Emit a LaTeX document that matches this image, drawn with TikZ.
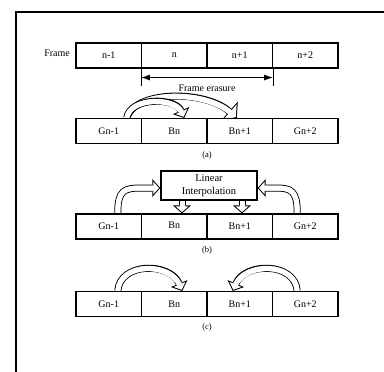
\documentclass[tikz,border=0pt]{standalone}
\usepackage{fontspec}
\setmainfont{Liberation Serif}
\usetikzlibrary{arrows.meta,calc,backgrounds}

\tikzset{
  cell/.style={draw, line width=1.1pt, fill=white, minimum width=65.5pt,
    minimum height=25pt, inner sep=0pt, font=\fontsize{10}{12}\selectfont},
  lbl/.style={inner sep=0pt, font=\fontsize{8.5}{10}\selectfont},
  % hollow outlined arrow: black body, white core, white head inset by 1pt
  harrow/.style n args={6}{line width=7pt,
    -{Triangle[length=#1pt,width=#2pt,line width=0pt]},
    postaction={draw=white, line width=5pt,
      -{Triangle[length=#3pt,width=#4pt,line width=0pt]}, shorten >=#5pt},
    postaction={draw=white, line width=5pt, -, shorten >=#6pt}},
  hsmall/.style={harrow={8}{18}{5.66}{12.7}{1.34}{5}},
  hbig/.style={harrow={10}{26}{7.74}{20.1}{1.26}{6}},
  erase/.style={line width=0.9pt,
    {Latex[length=9pt,width=6pt]}-{Latex[length=9pt,width=6pt]}}
}

\begin{document}
\begin{tikzpicture}[x=1pt,y=-1pt]
\useasboundingbox (0,0) rectangle (384,372);

% outer frame
\draw[line width=2pt] (384,11.5) -- (15.5,11.5) -- (15.5,372);

% frame row
\node[cell] (f1) at (108.75,55.5) {n-1};
\node[cell] (f2) at (174.25,55.5) {n};
\node[cell] (f3) at (239.75,55.5) {n+1};
\node[cell] (f4) at (305.25,55.5) {n+2};
\node[lbl, anchor=east, font=\fontsize{10}{12}\selectfont] (fr) at (70,53.5) {Frame};

% erasure span
\draw[line width=0.9pt] (f2.south west) -- ++(0,17) coordinate (tl);
\draw[line width=0.9pt] (f3.south east) -- ++(0,17) coordinate (tr);
\draw[erase] ($(f2.south west)+(0,9)$) coordinate (el) -- ($(f3.south east)+(0,9)$) coordinate (er);
\node[lbl, font=\fontsize{10}{12}\selectfont] (fe) at (207,88) {Frame erasure};

% row (a)
\node[cell] (ga1) at (108.75,131) {Gn-1};
\node[cell] (ba1) at (174.25,131) {Bn};
\node[cell] (ba2) at (239.75,131) {Bn+1};
\node[cell] (ga2) at (305.25,131) {Gn+2};
\node[lbl] (capa) at (207,155) {(a)};

% row (b)
\node[cell, line width=1.4pt, fill=white, minimum width=96pt, minimum height=29pt,
  align=center, font=\fontsize{10.5}{12.5}\selectfont] (li) at (209,185.5) {Linear\\Interpolation};
\node[cell] (gb1) at (108.75,226.5) {Gn-1};
\node[cell] (bb1) at (174.25,226.5) {\raisebox{3pt}{Bn}};
\node[cell] (bb2) at (239.75,226.5) {Bn+1};
\node[cell] (gb2) at (305.25,226.5) {Gn+2};
\node[lbl] (capb) at (207,250) {(b)};

% row (c)
\node[cell] (gc1) at (108.75,304) {Gn-1};
\node[cell] (bc1) at (174.25,304) {Bn};
\node[cell] (bc2) at (239.75,304) {Bn+1};
\node[cell] (gc2) at (305.25,304) {Gn+2};
\node[lbl] (capc) at (207,327) {(c)};

\begin{scope}[on background layer]
  % (a) extrapolation from the last good frame
  \draw[hbig] ([xshift=18pt]ga1.north) .. controls (135,90) and (205,90) .. ([xshift=-3pt]ba2.north);
  \draw[hsmall] ([xshift=18pt]ga1.north) .. controls (130,97) and (175,97) .. ([xshift=10pt]ba1.north);
  % (b) interpolation between good frames
  \draw[hsmall] ([xshift=9pt]gb1.north) .. controls (117.75,190) and (124,188) .. (142,188) -- ([yshift=-2.5pt]li.west);
  \draw[hsmall] ([xshift=-8pt]gb2.north) .. controls (297.25,190) and (291,188) .. (275,188) -- ([yshift=-2.5pt]li.east);
  \draw[hsmall] ([xshift=-27pt]li.south) -- ([xshift=-27pt]li.south |- bb1.north);
  \draw[hsmall] ([xshift=33pt]li.south) -- ([xshift=33pt]li.south |- bb2.north);
  % (c) repetition from both neighbours
  \draw[hsmall] ([xshift=9pt]gc1.north) .. controls (120,262) and (170,262) .. ([xshift=8pt]bc1.north);
  \draw[hsmall] ([xshift=-8pt]gc2.north) .. controls (295,262) and (245,262) .. ([xshift=-7pt]bc2.north);
\end{scope}
\end{tikzpicture}
\end{document}
